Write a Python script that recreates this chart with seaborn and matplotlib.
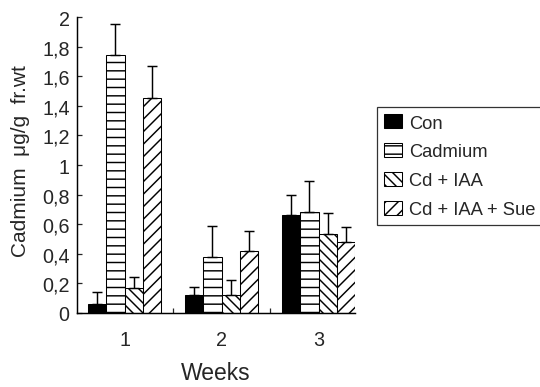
import matplotlib
matplotlib.use('Agg')
import matplotlib.pyplot as plt
from matplotlib.patches import Patch
from matplotlib.ticker import FixedLocator
import numpy as np
import pandas as pd
import seaborn as sns

# dados (média e desvio, só para cima)
semanas = ['1', '2', '3']
tratamentos = ['Con', 'Cadmium', 'Cd + IAA', 'Cd + IAA + Sue']

con = [0.06, 0.12, 0.66]
con_err = [0.085, 0.055, 0.14]
cadmium = [1.74, 0.38, 0.685]
cadmium_err = [0.21, 0.21, 0.205]
cd_iaa = [0.17, 0.12, 0.535]
cd_iaa_err = [0.07, 0.10, 0.14]
cd_iaa_sue = [1.45, 0.42, 0.48]
cd_iaa_sue_err = [0.22, 0.135, 0.10]

y_ticks = [0, 0.2, 0.4, 0.6, 0.8, 1, 1.2, 1.4, 1.6, 1.8, 2]

valores = [con, cadmium, cd_iaa, cd_iaa_sue]
erros = [con_err, cadmium_err, cd_iaa_err, cd_iaa_sue_err]
hatches = ['', '---', '\\\\\\\\\\', '////']
cores = ['black', 'white', 'white', 'white']

df = pd.DataFrame({
    'Semana': [s for _ in tratamentos for s in semanas],
    'Tratamento': [t for t in tratamentos for _ in semanas],
    'Valor': [v for serie in valores for v in serie],
})

sns.set_style('ticks')
plt.rcParams['font.family'] = ['Liberation Sans', 'DejaVu Sans']
plt.rcParams['hatch.linewidth'] = 0.7

fig = plt.figure(figsize=(3.6, 388 / 150), dpi=150)
ax = fig.add_axes([77 / 540, 1 - 314 / 388, (355 - 77) / 540, (314 - 18) / 388])

sns.barplot(data=df, x='Semana', y='Valor', hue='Tratamento', order=semanas,
            hue_order=tratamentos, palette=dict(zip(tratamentos, cores)),
            width=0.75, errorbar=None, legend=False, ax=ax,
            edgecolor='black', linewidth=0.5, saturation=1)

for container, h, err in zip(ax.containers, hatches, erros):
    xs, ys = [], []
    for barra in container:
        barra.set_hatch(h)
        barra.set_edgecolor('black')
        xs.append(barra.get_x() + barra.get_width() / 2)
        ys.append(barra.get_height())
    ax.errorbar(xs, ys, yerr=[np.zeros(len(err)), err], fmt='none',
                ecolor='black', elinewidth=0.7, capsize=2.4, capthick=0.7)

ax.set_ylim(0, 2)
ax.set_xlim(-0.49, 2.376)
ax.set_yticks(y_ticks)
ax.set_yticklabels([f'{t:g}'.replace('.', ',') for t in y_ticks], fontsize=9.5)
ax.tick_params(axis='y', direction='in', length=2.4, width=0.6, pad=3.5)
ax.tick_params(axis='x', which='major', length=0, pad=8, labelsize=9.5)
ax.xaxis.set_minor_locator(FixedLocator([0.5, 1.5]))
ax.tick_params(axis='x', which='minor', direction='in', length=2.4, width=0.6)

sns.despine(ax=ax)
for lado in ['left', 'bottom']:
    ax.spines[lado].set_linewidth(0.7)
    ax.spines[lado].set_color('black')

ax.set_xlabel('Weeks', fontsize=11, labelpad=6)
ax.set_ylabel('')
fig.text(21 / 540, 1 - 161 / 388, 'Cadmium  μg/g  fr.wt', rotation=90,
         ha='center', va='center', fontsize=10)

handles = [Patch(facecolor=c, edgecolor='black', hatch=h, linewidth=0.5)
           for c, h in zip(cores, hatches)]
leg = fig.legend(handles, tratamentos, loc='upper left',
                 bbox_to_anchor=(377 / 540, 1 - 108 / 388), fontsize=8.8,
                 frameon=True, fancybox=False, shadow=False, borderpad=0.4,
                 handlelength=0.95, handleheight=0.8, handletextpad=0.4,
                 labelspacing=0.62, borderaxespad=0)
leg.get_frame().set_edgecolor('black')
leg.get_frame().set_linewidth(0.6)

fig.savefig('out.png', dpi=150)
